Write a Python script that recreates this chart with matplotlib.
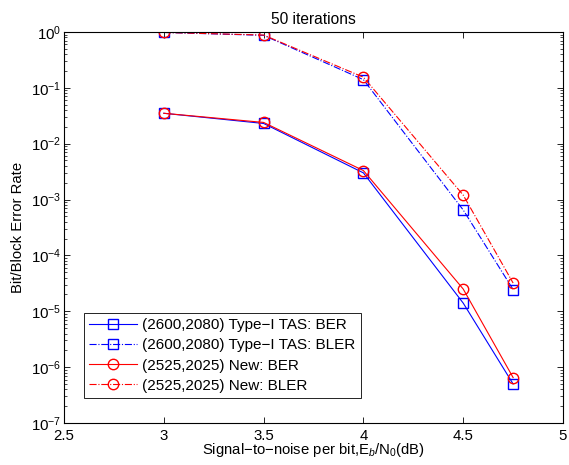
import matplotlib
matplotlib.use("Agg")
from matplotlib import pyplot as plt

plt.rcParams['font.family'] = ['Liberation Sans', 'DejaVu Sans']
plt.rcParams['mathtext.fontset'] = 'custom'
plt.rcParams['mathtext.rm'] = 'Liberation Sans'
plt.rcParams['mathtext.it'] = 'Liberation Sans:italic'

# Eb/N0 (dB)
snr = [3, 3.5, 4, 4.5, 4.75]
tas_ber = [0.035, 0.023, 0.0030, 1.4e-5, 5.0e-7]
tas_bler = [0.98, 0.87, 0.14, 6.5e-4, 2.45e-5]
new_ber = [0.035, 0.024, 0.0033, 2.5e-5, 6.5e-7]
new_bler = [0.98, 0.88, 0.155, 1.2e-3, 3.2e-5]

fig = plt.figure(figsize=(5.69, 4.65), dpi=100)
ax = fig.add_axes([0.1125, 0.0903, 0.877, 0.841])

ax.semilogy(snr, tas_ber, '-', color='#0000ff', marker='s', mfc='none', ms=7, lw=0.8,
            label='(2600,2080) Type\u2212I TAS: BER')
ax.semilogy(snr, tas_bler, '-.', color='#0000ff', marker='s', mfc='none', ms=7, lw=0.8,
            label='(2600,2080) Type\u2212I TAS: BLER')
ax.semilogy(snr, new_ber, '-', color='#ff0000', marker='o', mfc='none', ms=7.5, lw=0.8,
            label='(2525,2025) New: BER')
ax.semilogy(snr, new_bler, '-.', color='#ff0000', marker='o', mfc='none', ms=7.5, lw=0.8,
            label='(2525,2025) New: BLER')

ax.set_xlim(2.5, 5)
ax.set_ylim(1e-7, 1)
ax.set_xticks([2.5, 3, 3.5, 4, 4.5, 5])
ax.set_xticklabels(['2.5', '3', '3.5', '4', '4.5', '5'])
ax.tick_params(which='both', direction='in', top=True, right=True, labelsize=10.8)
ax.tick_params(which='major', length=4, width=0.6)
ax.tick_params(which='minor', length=2, width=0.5)
ax.tick_params(axis='y', which='major', pad=2)
ax.tick_params(axis='x', which='major', pad=4)
for s in ax.spines.values():
    s.set_linewidth(0.8)

ax.set_title('50 iterations', fontsize=11.2, pad=6)
ax.set_xlabel('Signal\u2212to\u2212noise per bit,E$_b$/N$_0$(dB)', fontsize=10.7, labelpad=-1)
ax.set_ylabel('Bit/Block Error Rate', fontsize=10.7, labelpad=4)

leg = ax.legend(loc='lower left', bbox_to_anchor=(0.04, 0.064), fontsize=11,
                fancybox=False, framealpha=1, edgecolor='black', borderpad=0.35,
                labelspacing=0.4, handlelength=3.1, handletextpad=0.35, borderaxespad=0)
leg.get_frame().set_linewidth(0.6)

fig.savefig('out.png', dpi=100)
